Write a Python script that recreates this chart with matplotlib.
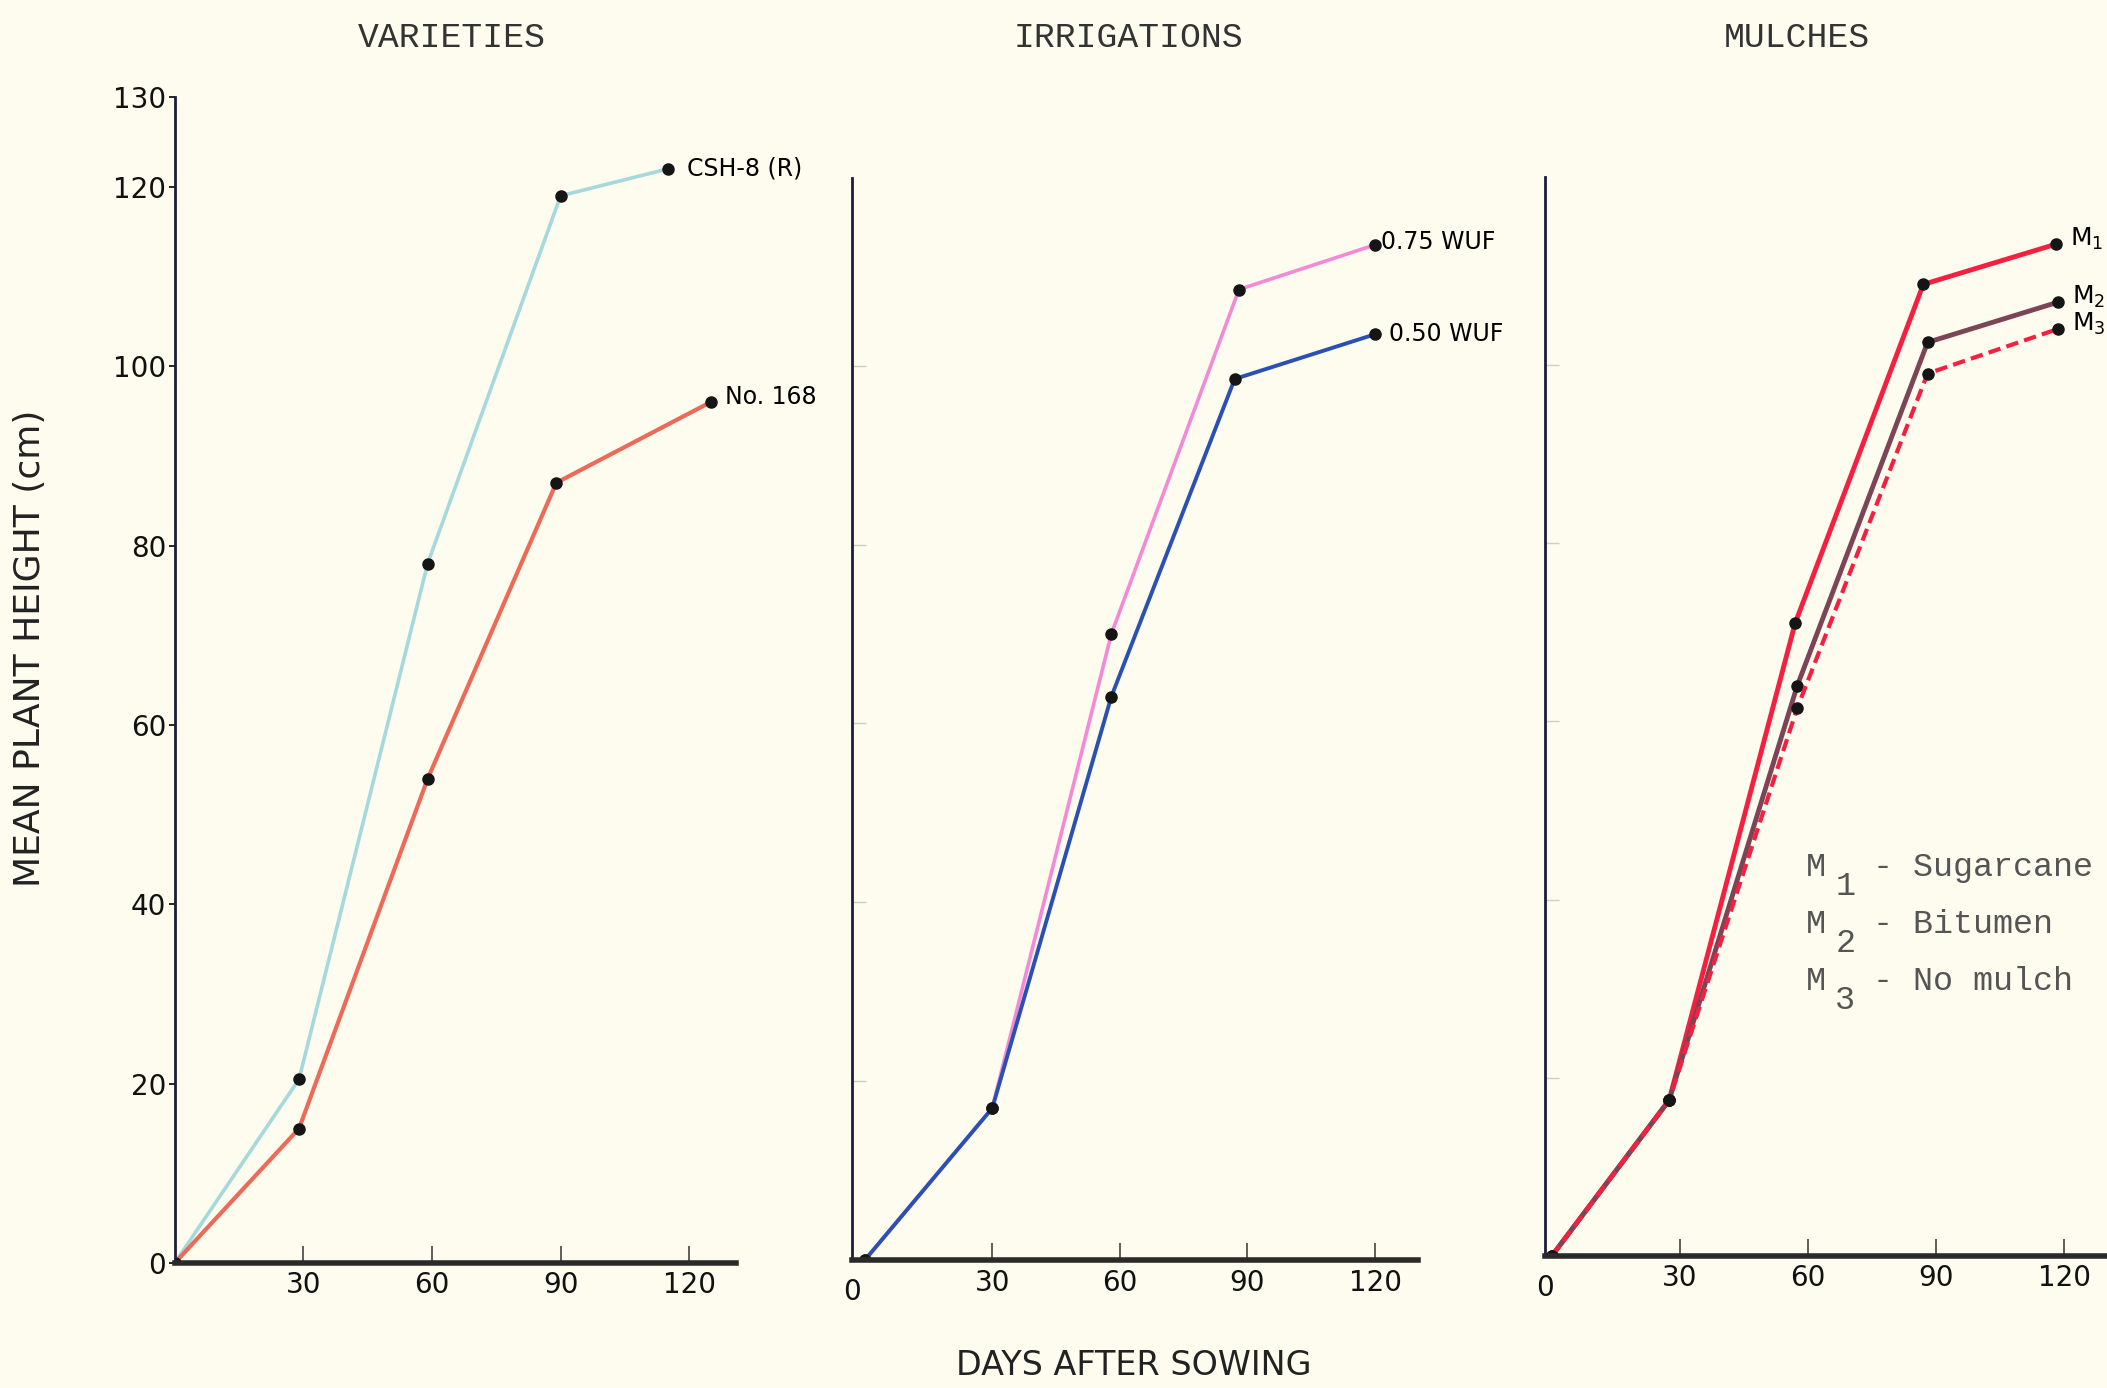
import matplotlib
matplotlib.use("Agg")
import matplotlib.pyplot as plt

# values (days after sowing, mean plant height in cm)
days_csh = [0, 29, 59, 90, 115]
csh8 = [0, 20.5, 78, 119, 122]
days_168 = [0, 29, 59, 89, 125]
no168 = [0, 15, 54, 87, 96]

days_075 = [0, 30, 58, 88, 120]
wuf075 = [0, 17, 70, 108.5, 113.5]
days_050 = [0, 30, 58, 87, 120]
wuf050 = [0, 17, 63, 98.5, 103.5]

days_m1 = [0, 27.5, 57, 87, 118]
m1 = [0, 17.5, 71, 109, 113.5]
days_m2 = [0, 27.5, 57.5, 88, 118.5]
m2 = [0, 17.5, 64, 102.5, 107]
days_m3 = [0, 27.5, 57.5, 88, 118.5]
m3 = [0, 17.5, 61.5, 99, 104]

xticks = [30, 60, 90, 120]
yticks = [0, 20, 40, 60, 80, 100, 120, 130]
titles = ["VARIETIES", "IRRIGATIONS", "MULCHES"]
legend_rows = [("1", "Sugarcane"), ("2", "Bitumen"), ("3", "No mulch")]

bg = "#fdfcef"
hand = "DejaVu Sans"
mono = "Liberation Mono"

fig = plt.figure(figsize=(21.07, 13.88), dpi=100, facecolor=bg)

ax1 = fig.add_axes([0.0829, 0.090, 0.2666, 0.840])
ax2 = fig.add_axes([0.4043, 0.092, 0.2685, 0.838])
ax3 = fig.add_axes([0.7334, 0.095, 0.2666, 0.835])

ax1.set_xlim(0, 131)
ax2.set_xlim(-3, 130)
ax3.set_xlim(-1.5, 130)

for ax, title, tx in zip((ax1, ax2, ax3), titles, (0.493, 0.489, 0.447)):
    ax.set_facecolor(bg)
    ax.set_ylim(0, 130)
    for s in ("top", "right"):
        ax.spines[s].set_visible(False)
    ax.spines["left"].set_color("#1c1c3c")
    ax.spines["left"].set_linewidth(2)
    ax.spines["bottom"].set_color("#2a2a2a")
    ax.spines["bottom"].set_linewidth(4)
    ax.set_xticks(xticks)
    ax.set_xticklabels([str(t) for t in xticks], fontsize=20, family=hand)
    ax.tick_params(axis="x", direction="in", length=12, width=1.2, colors="#444444",
                   labelcolor="#111111", pad=6)
    ax.set_title(title, fontsize=25, family=mono, color="#333333", x=tx, pad=36)

ax1.set_yticks(yticks)
ax1.set_yticklabels([str(t) for t in yticks], fontsize=20, family=hand)
ax1.tick_params(axis="y", direction="out", length=4, width=1.2, labelcolor="#111111", pad=2)
ax1.spines["left"].set_bounds(0, 130)

for ax in (ax2, ax3):
    ax.set_yticks([20, 40, 60, 80, 100])
    ax.set_yticklabels([])
    ax.tick_params(axis="y", direction="in", length=10, width=1, colors="#cfcfc0")
    ax.spines["left"].set_bounds(0, 121)
    ax.text(ax.get_xlim()[0], -2, "0", fontsize=20, family=hand, ha="center", va="top",
            color="#111111")

dot = dict(marker="o", markersize=8, markerfacecolor="#151515", markeredgecolor="#151515")

ax1.plot(days_csh, csh8, color="#a6d9dc", lw=2.6, **dot)
ax1.plot(days_168, no168, color="#ee6a58", lw=3, **dot)
ax1.annotate("CSH-8 (R)", (days_csh[-1], csh8[-1]), xytext=(14, 0), textcoords="offset points",
             fontsize=17, family=hand, va="center")
ax1.annotate("No. 168", (days_168[-1], no168[-1]), xytext=(10, 4), textcoords="offset points",
             fontsize=17, family=hand, va="center")

ax2.plot(days_075, wuf075, color="#f38ad6", lw=2.6, **dot)
ax2.plot(days_050, wuf050, color="#2a50b4", lw=2.8, **dot)
ax2.annotate("0.75 WUF", (days_075[-1], wuf075[-1]), xytext=(4, 2), textcoords="offset points",
             fontsize=17, family=hand, va="center")
ax2.annotate("0.50 WUF", (days_050[-1], wuf050[-1]), xytext=(10, 0), textcoords="offset points",
             fontsize=17, family=hand, va="center")

ax3.plot(days_m1, m1, color="#f52040", lw=3.5, **dot)
ax3.plot(days_m2, m2, color="#7d4455", lw=3.5, **dot)
ax3.plot(days_m3, m3, color="#f52040", lw=3, linestyle=(0, (3, 1.5)), **dot)
for dx, dy, n in ((days_m1, m1, "1"), (days_m2, m2, "2"), (days_m3, m3, "3")):
    ax3.annotate("M$_{%s}$" % n, (dx[-1], dy[-1]), xytext=(10, 4), textcoords="offset points",
                 fontsize=18, family=hand, va="center", annotation_clip=False)

for i, (n, name) in enumerate(legend_rows):
    y = 0.375 - i * 0.041
    fig.text(0.857, y, "M", fontsize=24, family=mono, color="#555555", va="center")
    fig.text(0.871, y - 0.014, n, fontsize=24, family=mono, color="#555555", va="center")
    fig.text(0.889, y, "- " + name, fontsize=24, family=mono, color="#555555", va="center")

fig.text(0.006, 0.533, "MEAN PLANT HEIGHT (cm)", rotation=90, fontsize=26, family=hand,
         color="#222222", va="center", ha="left")
fig.text(0.538, 0.004, "DAYS AFTER SOWING", fontsize=24, family=hand, color="#222222",
         ha="center", va="bottom")

fig.savefig("out.png", dpi=100, facecolor=bg)
